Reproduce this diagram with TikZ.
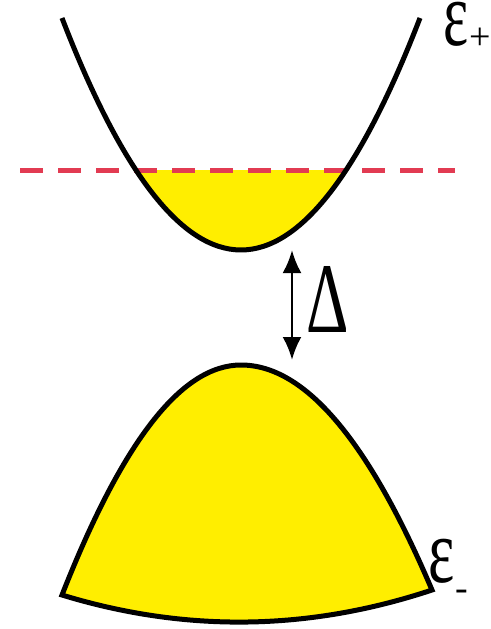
\documentclass[tikz,border=0pt]{standalone}
\usepackage{graphicx}
\usepackage{fontspec}
\newfontfamily\lserif{Liberation Serif}
\usetikzlibrary{arrows.meta}
\definecolor{bandyellow}{HTML}{FFEE00}
\definecolor{fermired}{HTML}{E23B52}
\tikzset{
  bandline/.style={line width=5pt, black},
  fermiline/.style={line width=5pt, fermired, dash pattern=on 23pt off 15pt},
  gaparrow/.style={line width=2.8pt, {Latex[length=23pt,width=19pt]}-{Latex[length=23pt,width=19pt]}},
  biglabel/.style={inner sep=0pt, anchor=base, font=\lserif\fontsize{92}{92}\selectfont},
  sublabel/.style={inner sep=0pt, font=\lserif\fontsize{38}{38}\selectfont},
}
\begin{document}
\begin{tikzpicture}[x=1pt,y=-1pt]
\useasboundingbox (0,0) rectangle (490,629);
% upper band filling
\begin{scope}
  \clip (0,170) rectangle (490,629);
  \fill[bandyellow] (62,18) .. controls (181.3,327.3) and (300.7,327.3) .. (420,18) -- cycle;
\end{scope}
% Fermi level
\coordinate (fl) at (20,170);
\coordinate (fr) at (455,170);
\draw[fermiline] (fl) -- (fr);
% upper band
\draw[bandline] (62,18) .. controls (181.3,327.3) and (300.7,327.3) .. (420,18);
% lower band
\draw[bandline, fill=bandyellow] (62,595) .. controls (122.3,441.7) and (181.3,365) .. (241,365)
  .. controls (304.7,365) and (368.3,440) .. (432,590)
  .. controls (308.7,631) and (185.3,632.7) .. cycle;
% gap arrow
\coordinate (gtop) at (292,250);
\coordinate (gbot) at (292,360);
\draw[gaparrow] (gtop) -- (gbot);
\node[biglabel] (delta) at (327.5,332) {\scalebox{0.66}[1]{\fontsize{100}{100}\selectfont Δ}};
% labels
\node[biglabel] (epsp) at (456,45) {\scalebox{0.65}[1]{ε}};
\node[sublabel] (plus) at (480,39) {+};
\node[biglabel] (epsm) at (441.5,582) {\scalebox{0.68}[1]{ε}};
\node[sublabel] (minus) at (462,595) {-};
\end{tikzpicture}
\end{document}
